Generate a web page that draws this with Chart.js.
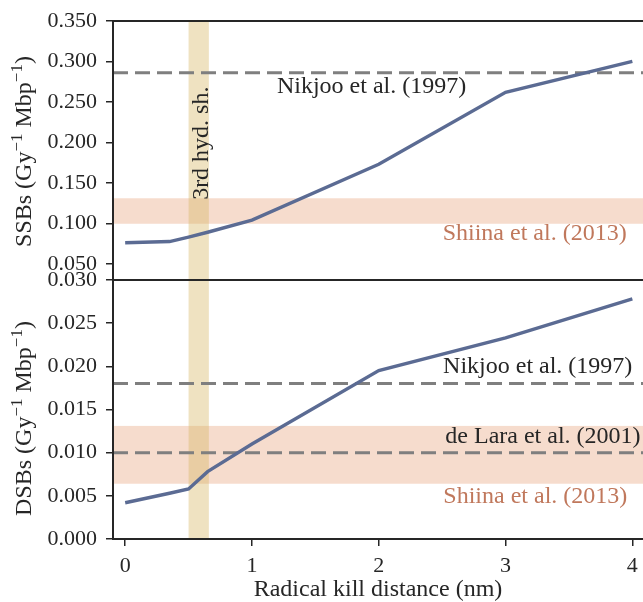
<!DOCTYPE html>
<html>
<head>
<meta charset="utf-8">
<script src="https://cdn.jsdelivr.net/npm/chart.js@4.4.1/dist/chart.umd.min.js"></script>
<style>
    html, body { margin: 0; padding: 0; background: #fff; overflow: hidden; }
    #wrap { position: relative; width: 643px; height: 602px; overflow: hidden; }
    #topChart { position: absolute; left: 0; top: 0; }
    #botChart { position: absolute; left: 0; top: 258px; }
</style>
</head>
<body>
<div id="wrap">
    <canvas id="topChart" width="643" height="281"></canvas>
    <canvas id="botChart" width="643" height="350"></canvas>
</div>
<script>
// Strand breaks vs radical kill distance

const X_NM = [0, 0.35, 0.5, 0.65, 1, 2, 3, 4];
const SSB = [0.076, 0.0775, 0.083, 0.089, 0.104, 0.173, 0.262, 0.300];
const DSB = [0.0042, 0.0053, 0.0058, 0.0078, 0.0110, 0.0195, 0.0233, 0.0278];

const X_TICKS = [0, 1, 2, 3, 4];
const SSB_TICKS = [0.05, 0.10, 0.15, 0.20, 0.25, 0.30, 0.35];
const DSB_TICKS = [0, 0.005, 0.010, 0.015, 0.020, 0.025, 0.030];

// reference values from the literature
const HYD_SHELL = [0.5, 0.66];          // 3rd hydration shell (nm)
const SSB_NIKJOO = 0.286;
const SSB_SHIINA = [0.0995, 0.131];
const DSB_NIKJOO = 0.018;
const DSB_DELARA = 0.010;
const DSB_SHIINA = [0.0064, 0.0131];

const FONT = "'Liberation Serif', 'DejaVu Serif', serif";
const INK = '#262626';
const LINE_BLUE = '#5b6b93';
const DASH_GREY = '#7f7f7f';
const PEACH = 'rgba(224,140,90,0.30)';
const TAN = 'rgba(214,183,100,0.40)';
const SHIINA_TXT = '#c0785c';

Chart.defaults.font.family = FONT;
Chart.defaults.font.size = 22;
Chart.defaults.color = INK;

const toPts = (xs, ys) => xs.map((x, i) => ({ x: x, y: ys[i] }));

// axis title with raised "-1" exponents, drawn rotated
function drawYTitle(ctx, name, cx, cy) {
    const parts = [
        { t: name + ' (Gy', sup: false },
        { t: '\u22121', sup: true },
        { t: ' Mbp', sup: false },
        { t: '\u22121', sup: true },
        { t: ')', sup: false }
    ];
    const fontOf = p => (p.sup ? '17px ' : '24px ') + FONT;
    let total = 0;
    parts.forEach(p => { ctx.font = fontOf(p); p.w = ctx.measureText(p.t).width; total += p.w; });
    ctx.save();
    ctx.translate(cx, cy);
    ctx.rotate(-Math.PI / 2);
    ctx.fillStyle = INK;
    ctx.textAlign = 'left';
    ctx.textBaseline = 'alphabetic';
    let x = -total / 2;
    parts.forEach(p => {
        ctx.font = fontOf(p);
        ctx.fillText(p.t, x, p.sup ? -9 : 0);
        x += p.w;
    });
    ctx.restore();
}

// draws bands, dashed reference lines and labels through the chart scales
const refLayer = {
    id: 'refLayer',
    beforeDatasetsDraw(chart, args, opts) {
        const ctx = chart.ctx, a = chart.chartArea;
        const xs = chart.scales.x, ys = chart.scales.y;
        ctx.save();
        ctx.beginPath();
        ctx.rect(a.left, a.top, a.right - a.left, a.bottom - a.top);
        ctx.clip();
        (opts.hbands || []).forEach(b => {
            const y1 = ys.getPixelForValue(b.range[1]);
            const y0 = ys.getPixelForValue(b.range[0]);
            ctx.fillStyle = b.color;
            ctx.fillRect(a.left, y1, a.right - a.left, y0 - y1);
        });
        (opts.vbands || []).forEach(b => {
            const x0 = xs.getPixelForValue(b.range[0]);
            const x1 = xs.getPixelForValue(b.range[1]);
            ctx.fillStyle = b.color;
            ctx.fillRect(x0, a.top, x1 - x0, a.bottom - a.top);
        });
        (opts.hlines || []).forEach(v => {
            const py = ys.getPixelForValue(v);
            ctx.strokeStyle = DASH_GREY;
            ctx.lineWidth = 3;
            ctx.setLineDash([15, 7]);
            ctx.beginPath();
            ctx.moveTo(a.left, py);
            ctx.lineTo(a.right, py);
            ctx.stroke();
        });
        ctx.restore();

        ctx.save();
        ctx.font = '24px ' + FONT;
        (opts.labels || []).forEach(l => {
            const px = xs.getPixelForValue(l.x), py = ys.getPixelForValue(l.y);
            ctx.fillStyle = l.color || INK;
            ctx.textBaseline = 'middle';
            if (l.rotate) {
                ctx.save();
                ctx.translate(px, py);
                ctx.rotate(-Math.PI / 2);
                ctx.textAlign = 'left';
                ctx.fillText(l.text, 0, 0);
                ctx.restore();
            } else {
                ctx.textAlign = l.align || 'right';
                ctx.fillText(l.text, px, py);
            }
        });
        ctx.restore();
    },
    afterDraw(chart, args, opts) {
        const ctx = chart.ctx, a = chart.chartArea;
        ctx.save();
        ctx.strokeStyle = INK;
        ctx.lineWidth = 2;
        ctx.beginPath();
        ctx.moveTo(a.right, a.top);
        ctx.lineTo(a.left, a.top);
        ctx.lineTo(a.left, a.bottom);
        if (opts.bottomEdge) ctx.lineTo(a.right, a.bottom);
        ctx.stroke();
        ctx.restore();
        if (opts.yTitle) {
            drawYTitle(ctx, opts.yTitle, 31, (a.top + a.bottom) / 2 + opts.yTitleShift);
        }
    }
};

function xScale(show) {
    return {
        type: 'linear',
        min: -0.096,
        max: 4.084,
        display: show,
        afterBuildTicks: s => { s.ticks = X_TICKS.map(v => ({ value: v })); },
        afterFit: s => {
            s.height = show ? 69 : 0;
            s.paddingLeft = 0; s.paddingRight = 0;
        },
        grid: { drawOnChartArea: false, drawTicks: true, tickLength: 7, color: INK, lineWidth: 1.5 },
        border: { display: true, color: INK, width: 2 },
        ticks: { padding: 7, maxRotation: 0, font: { size: 22 }, color: INK },
        title: {
            display: show,
            text: 'Radical kill distance (nm)',
            font: { size: 24 },
            color: INK,
            padding: { top: 0, bottom: 4 }
        }
    };
}

function yScale(min, max, tickVals) {
    return {
        type: 'linear',
        min: min,
        max: max,
        afterBuildTicks: s => { s.ticks = tickVals.map(v => ({ value: v })); },
        afterFit: s => {
            s.width = 113;
            s.paddingTop = 0; s.paddingBottom = 0;
        },
        grid: { drawOnChartArea: false, drawTicks: true, tickLength: 7, color: INK, lineWidth: 1.5 },
        border: { display: true, color: INK, width: 2 },
        ticks: { padding: 9, font: { size: 22 }, color: INK, callback: v => Number(v).toFixed(3) },
        title: { display: false }
    };
}

function lineSet(ys, label) {
    return {
        label: label,
        data: toPts(X_NM, ys),
        borderColor: LINE_BLUE,
        borderWidth: 3.4,
        pointRadius: 0,
        tension: 0,
        fill: false
    };
}

new Chart(document.getElementById('topChart'), {
    type: 'line',
    data: { datasets: [lineSet(SSB, 'SSBs')] },
    options: {
        responsive: false,
        animation: false,
        layout: { padding: { top: 21, bottom: 1, left: 0, right: 0 } },
        plugins: {
            legend: { display: false },
            tooltip: { enabled: false },
            refLayer: {
                yTitle: 'SSBs',
                yTitleShift: 1,
                hbands: [{ range: SSB_SHIINA, color: PEACH }],
                vbands: [{ range: HYD_SHELL, color: TAN }],
                hlines: [SSB_NIKJOO],
                labels: [
                    { text: 'Nikjoo et al. (1997)', x: 2.69, y: 0.2685 },
                    { text: 'Shiina et al. (2013)', x: 3.955, y: 0.087, color: SHIINA_TXT },
                    { text: '3rd hyd. sh.', x: 0.6, y: 0.129, rotate: true }
                ]
            }
        },
        scales: {
            x: xScale(false),
            y: yScale(0.03, 0.35, SSB_TICKS)
        }
    },
    plugins: [refLayer]
});

new Chart(document.getElementById('botChart'), {
    type: 'line',
    data: { datasets: [lineSet(DSB, 'DSBs')] },
    options: {
        responsive: false,
        animation: false,
        layout: { padding: { top: 22, bottom: 0, left: 0, right: 0 } },
        plugins: {
            legend: { display: false },
            tooltip: { enabled: false },
            refLayer: {
                bottomEdge: true,
                yTitle: 'DSBs',
                yTitleShift: 9,
                hbands: [{ range: DSB_SHIINA, color: PEACH }],
                vbands: [{ range: HYD_SHELL, color: TAN }],
                hlines: [DSB_NIKJOO, DSB_DELARA],
                labels: [
                    { text: 'Nikjoo et al. (1997)', x: 4.0, y: 0.0199 },
                    { text: 'de Lara et al. (2001)', x: 4.065, y: 0.0119 },
                    { text: 'Shiina et al. (2013)', x: 3.96, y: 0.0049, color: SHIINA_TXT }
                ]
            }
        },
        scales: {
            x: xScale(true),
            y: yScale(0, 0.03, DSB_TICKS)
        }
    },
    plugins: [refLayer]
});
</script>
</body>
</html>
